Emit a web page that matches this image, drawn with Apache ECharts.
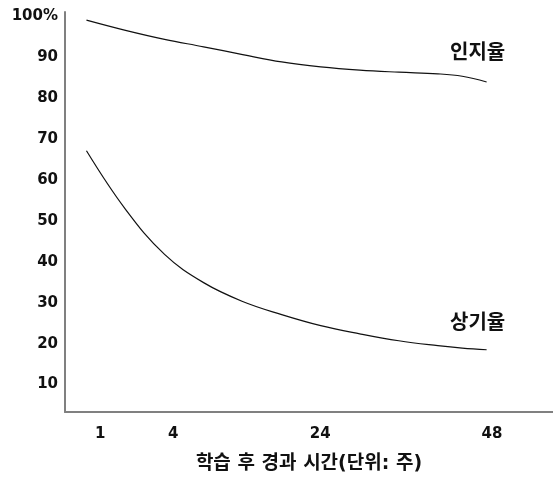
<!DOCTYPE html>
<html>
<head>
<meta charset="utf-8">
<script src="https://cdn.jsdelivr.net/npm/echarts@6/dist/echarts.min.js"></script>
<style>
html,body{margin:0;padding:0;background:#fff;}
#c{width:553px;height:479px;}
</style>
</head>
<body>
<div id="c"></div>
<script>
// x positions on an illustrative (non-linear) time scale, 0..100
const tickPositions = [7.2, 22.2, 52.3, 87.5];
const tickLabels = ['1', '4', '24', '48'];
const yTicks = [10, 20, 30, 40, 50, 60, 70, 80, 90, 100];

const curveX = [4.4, 12.4, 20.4, 28.4, 36.4, 44.4, 52.4, 60.4, 68.4, 76.4, 81.4, 86.4];
const recognitionY = [99.0, 96.5, 94.3, 92.5, 90.6, 88.8, 87.6, 86.8, 86.3, 85.9, 85.3, 83.9];
const recallY = [67.1, 52.8, 41.8, 34.9, 30.3, 27.1, 24.4, 22.4, 20.7, 19.5, 18.9, 18.5];

const seriesNames = ['인지율', '상기율'];
const xName = '학습 후 경과 시간(단위: 주)';

const FONT = '"DejaVu Sans", "Noto Sans CJK KR", sans-serif';

function pairs(xs, ys) { return xs.map((x, i) => [x, ys[i]]); }

const chart = echarts.init(document.getElementById('c'));
chart.setOption({
  animation: false,
  backgroundColor: '#fff',
  grid: { left: 65, right: 0, top: 12, bottom: 65 },
  xAxis: {
    type: 'value', min: 0, max: 100,
    name: xName, nameLocation: 'middle', nameGap: 43,
    nameTextStyle: { fontFamily: FONT, fontWeight: 'bold', fontSize: 19, color: '#111' },
    axisLine: { show: true, lineStyle: { color: '#808080', width: 2 } },
    axisTick: { show: false },
    splitLine: { show: false },
    axisLabel: {
      customValues: tickPositions,
      formatter: v => { const i = tickPositions.indexOf(v); return i >= 0 ? tickLabels[i] : ''; },
      fontFamily: FONT, fontWeight: 'bold', fontSize: 15, color: '#111', margin: 15
    }
  },
  yAxis: {
    type: 'value', min: 3.3, max: 101,
    axisLine: { show: true, lineStyle: { color: '#808080', width: 2 } },
    axisTick: { show: false },
    splitLine: { show: false },
    axisLabel: {
      customValues: yTicks,
      formatter: v => v === 100 ? '100%' : String(v),
      fontFamily: FONT, fontWeight: 'bold', fontSize: 15, color: '#111', margin: 7
    }
  },
  series: [
    { name: seriesNames[0], type: 'line', smooth: 0.4, symbol: 'none',
      lineStyle: { color: '#111', width: 1.2 }, data: pairs(curveX, recognitionY) },
    { name: seriesNames[1], type: 'line', smooth: 0.4, symbol: 'none',
      lineStyle: { color: '#111', width: 1.2 }, data: pairs(curveX, recallY) }
  ],
  graphic: [
    { type: 'text', left: 450, top: 44, style: { text: seriesNames[0], font: 'bold 20px ' + FONT, fill: '#111' } },
    { type: 'text', left: 450, top: 314, style: { text: seriesNames[1], font: 'bold 20px ' + FONT, fill: '#111' } }
  ]
});
</script>
</body>
</html>
